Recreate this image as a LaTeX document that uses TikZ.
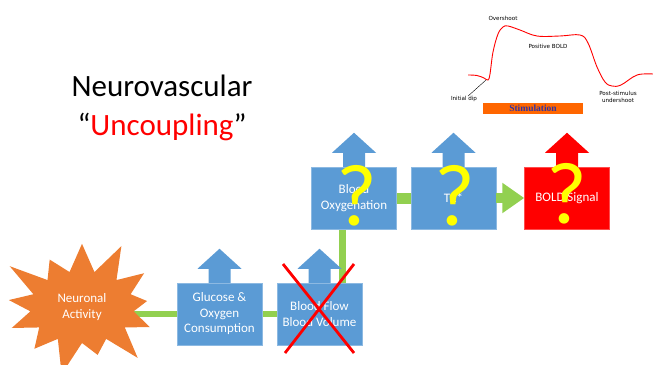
\documentclass[tikz,border=0pt]{standalone}
\usepackage{fontspec}
\setmainfont{Carlito}
\newfontfamily\plotfont{DejaVu Sans}
\newfontfamily\stimfont{Liberation Serif}
\usepackage{tikz}
\usetikzlibrary{positioning, arrows.meta, calc, shapes.symbols, backgrounds}
\definecolor{boxblue}{HTML}{5B9BD5}
\definecolor{linkgreen}{HTML}{92D050}
\definecolor{burstorange}{HTML}{ED7D31}
\definecolor{qyellow}{HTML}{FFFF00}
\definecolor{stimorange}{HTML}{FF6600}
\definecolor{stimblue}{HTML}{3333A0}

\tikzset{
  stepbox/.style={rectangle, fill=#1, draw=#1!70!white, line width=0.5pt,
    minimum width=85pt, minimum height=62pt, inner sep=2pt, text=white,
    align=center, font=\fontsize{13}{15.5}\selectfont},
  stepbox/.default=boxblue,
  link/.style={draw=linkgreen, line width=6pt},
  biglink/.style={draw=linkgreen, line width=11pt},
  qmark/.style={text=qyellow, anchor=base, inner sep=0pt, font=\fontsize{88}{88}\selectfont},
  plotlabel/.style={font=\plotfont\fontsize{5.6}{6.4}\selectfont, align=center, inner sep=0pt},
}
% blue/red arrow sitting on top of a box
\newcommand{\toparrow}[2]{%
  \fill[#2] (#1.north) ++(-11,0) -- ++(0,-14) -- ++(-11,0) -- ++(22,-20)
    -- ++(22,20) -- ++(-11,0) -- ++(0,14) -- cycle;}

\begin{document}
\begin{tikzpicture}[x=1pt, y=-1pt]
  \useasboundingbox (0,0) rectangle (653,364);
  \clip (0,0) rectangle (653,364);

  % title
  \node[font=\fontsize{31}{39}\selectfont, align=center] (title) at (162,108)
    {Neurovascular\\``{\color{red}Uncoupling}''};

  % BOLD response sketch
  \draw[red, line width=0.9pt] plot[smooth, tension=0.6] coordinates {
    (468,75) (477,75.5) (484,78) (488,80) (490,74) (493,52) (498,34) (503,27)
    (508,26) (520,30) (537,36) (560,36) (580,35) (588,43) (597,67) (605,82)
    (612,86) (621,85) (637,75) (653,74)};
  \node[plotlabel] (over) at (503,18) {Overshoot};
  \node[plotlabel] (pos) at (548,46) {Positive BOLD};
  \node[plotlabel] (dip) at (464,99) {Initial dip};
  \node[plotlabel] (post) at (618,97) {Post-stimulus\\undershoot};
  \coordinate (dipmin) at (486,80);
  \draw[line width=0.4pt] ([xshift=4pt]dip.north) -- (dipmin);
  \node[fill=stimorange, minimum width=100pt, minimum height=11pt, inner sep=0pt,
        text=stimblue, font=\stimfont\bfseries\fontsize{9.5}{10}\selectfont]
    (stim) at (533,108.5) {Stimulation};

  % chain of boxes
  \node[starburst, fill=burstorange, starburst points=13, starburst point height=38pt,
        minimum width=180pt, minimum height=148pt, text=white, align=center,
        font=\fontsize{13}{15.5}\selectfont] (neuro) at (82,307) {Neuronal\\Activity};
  \node[stepbox] (glucose) at (219.5,314) {Glucose \&\\Oxygen\\Consumption};
  \node[stepbox] (flow) at (319.5,314) {Blood Flow\\Blood Volume};
  \node[stepbox] (oxy) at (354,198) {Blood\\Oxygenation};
  \node[stepbox] (ttwo) at (453.5,198) {T2*};
  \node[stepbox=red] (bold) at (567,198) {BOLD Signal};

  \toparrow{glucose}{boxblue}
  \toparrow{flow}{boxblue}
  \toparrow{oxy}{boxblue}
  \toparrow{ttwo}{boxblue}
  \toparrow{bold}{red}

  \begin{scope}[on background layer]
    \draw[link] (glucose.west -| neuro.center) -- (glucose.west);
    \draw[link] (glucose.east) -- (flow.west);
    \draw[link, line width=7pt] ([xshift=22.5pt]flow.north) -- ([xshift=22.5pt]flow.north |- oxy.south);
    \draw[biglink] (oxy.east) -- (ttwo.west);
  \end{scope}
  \draw[draw=linkgreen, line width=10pt, -{Triangle[length=22pt, width=29pt]}]
    (ttwo.east) -- (bold.west);

  % uncoupled step
  \draw[red, line width=2.8pt] (283,264) -- (354,353) (354,264) -- (285,353);

  % unknowns
  \node[qmark] (q1) at ([xshift=3pt, yshift=-27pt]oxy.center) {?};
  \node[qmark] (q2) at ([xshift=1pt, yshift=-27pt]ttwo.center) {?};
  \node[qmark] (q3) at ([yshift=-25pt]bold.center) {?};
\end{tikzpicture}
\end{document}
